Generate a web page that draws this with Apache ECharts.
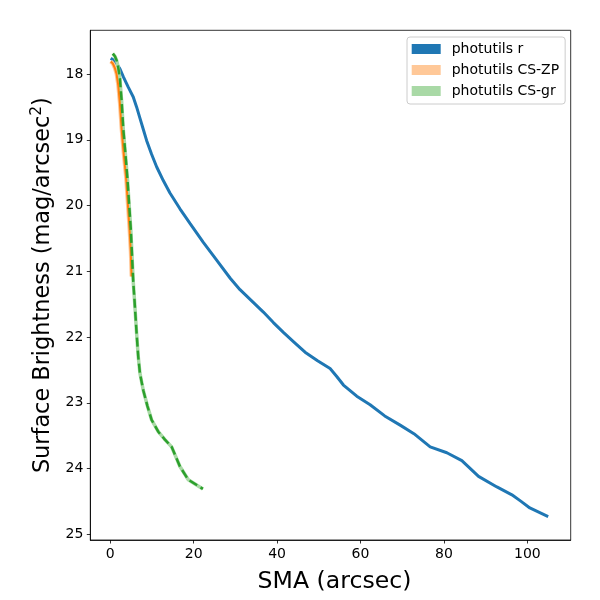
<!DOCTYPE html>
<html>
<head>
<meta charset="utf-8">
<script src="https://cdn.jsdelivr.net/npm/echarts@6/dist/echarts.min.js"></script>
<style>
  html, body { margin: 0; padding: 0; background: #fff; }
  #chart { width: 600px; height: 600px; }
</style>
</head>
<body>
<div id="chart"></div>
<script>
// photutils r profile
var rSma = [0.1, 0.8, 1.5, 2.3, 3.1, 4.3, 5.5, 6.3, 7.1, 7.9, 8.7, 9.9, 11.1, 12.7, 14.3, 16.7, 19.1, 22.3, 25.5, 28.8,
            31.1, 33.9, 36.7, 39.1, 41.5, 44.1, 46.7, 49.7, 52.7, 54.3, 55.9, 59.1, 62.3, 65.8, 69.5, 72.8, 76.7, 80.7,
            84.3, 88.3, 92.7, 96.3, 98.5, 100.6, 105.0];
var rMag = [17.76, 17.79, 17.84, 17.92, 18.04, 18.2, 18.35, 18.5, 18.67, 18.84, 19.01, 19.22, 19.41, 19.62, 19.81, 20.05,
            20.27, 20.56, 20.83, 21.11, 21.28, 21.45, 21.62, 21.78, 21.93, 22.08, 22.23, 22.36, 22.48, 22.6, 22.73, 22.9,
            23.03, 23.2, 23.34, 23.47, 23.67, 23.76, 23.88, 24.12, 24.28, 24.4, 24.5, 24.6, 24.73];
// photutils CS-ZP
var zpSma = [0.1, 0.6, 1.1, 1.5, 1.9, 2.3, 2.7, 3.2, 3.8, 4.2, 4.6, 4.9, 5.1];
var zpMag = [17.81, 17.84, 17.91, 18.0, 18.17, 18.45, 18.83, 19.2, 19.59, 19.97, 20.35, 20.7, 21.08];
// photutils CS-gr
var grSma = [0.6, 1.1, 1.5, 1.9, 2.3, 2.7, 3.1, 3.6, 4.1, 4.5, 4.9, 5.2, 5.5, 5.8, 6.3, 6.7, 7.1, 7.9, 8.9, 9.9,
             11.5, 13.1, 14.7, 16.7, 18.7, 22.2];
var grMag = [17.69, 17.73, 17.79, 17.9, 18.07, 18.4, 18.83, 19.2, 19.59, 19.97, 20.35, 20.75, 21.16, 21.44, 21.94, 22.3,
             22.55, 22.81, 23.05, 23.26, 23.44, 23.56, 23.67, 23.97, 24.17, 24.31];

var xTicks = [0, 20, 40, 60, 80, 100];
var yTicks = [18, 19, 20, 21, 22, 23, 24, 25];

var zip = function(xs, ys) {
    return xs.map(function(x, i) { return [x, ys[i]]; });
};

var font = 'DejaVu Sans';
var myChart = echarts.init(document.getElementById('chart'));

var axisCommon = {
    axisLine: { show: true, onZero: false, lineStyle: { color: '#000', width: 0.8 } },
    axisTick: { show: true, inside: false, length: 3.5, lineStyle: { color: '#000', width: 0.8 } },
    splitLine: { show: false }
};

var option = {
    animation: false,
    backgroundColor: '#fff',
    grid: {
        left: 90.3, right: 29.3, top: 30.3, bottom: 60,
        show: true, borderColor: '#000', borderWidth: 0.8,
        containLabel: false, outerBoundsMode: 'none'
    },
    legend: {
        orient: 'vertical',
        left: 407, top: 37,
        padding: [5, 6, 6, 4.7],
        itemGap: 7,
        itemWidth: 29, itemHeight: 10,
        borderColor: '#cccccc', borderWidth: 1, borderRadius: 3,
        backgroundColor: 'rgba(255,255,255,0.8)',
        textStyle: { fontFamily: font, fontSize: 14, color: '#000', lineHeight: 14, padding: [0, 0, 0, 6] },
        data: [
            { name: 'photutils r', icon: 'rect', itemStyle: { color: '#1f77b4' } },
            { name: 'photutils CS-ZP', icon: 'rect', itemStyle: { color: '#ffc898' } },
            { name: 'photutils CS-gr', icon: 'rect', itemStyle: { color: '#a9d9a6' } }
        ]
    },
    xAxis: Object.assign({}, axisCommon, {
        type: 'value',
        min: -4.8, max: 110.4,
        name: 'SMA (arcsec)',
        nameLocation: 'middle',
        nameGap: 30,
        nameTextStyle: { fontFamily: font, fontSize: 23.6, color: '#000', padding: [0, 0, 0, 8] },
        axisTick: Object.assign({}, axisCommon.axisTick, { customValues: xTicks }),
        axisLabel: { customValues: xTicks, margin: 7, fontFamily: font, fontSize: 14, color: '#000' }
    }),
    yAxis: Object.assign({}, axisCommon, {
        type: 'value',
        inverse: true,
        min: 17.335, max: 25.087,
        name: 'Surface Brightness (mag/arcsec{sup|2})',
        nameLocation: 'middle',
        nameRotate: 90,
        nameGap: 33,
        nameTextStyle: {
            fontFamily: font, fontSize: 22.4, color: '#000',
            rich: { sup: { fontFamily: font, fontSize: 15.5, color: '#000', verticalAlign: 'top', padding: [0, 0, 12, 0] } }
        },
        axisTick: Object.assign({}, axisCommon.axisTick, { customValues: yTicks }),
        axisLabel: { customValues: yTicks, margin: 7, fontFamily: font, fontSize: 14, color: '#000' }
    }),
    series: [
        {
            name: 'photutils r', type: 'line', showSymbol: false, silent: true,
            data: zip(rSma, rMag),
            itemStyle: { color: '#1f77b4' },
            lineStyle: { color: '#1f77b4', width: 3 }
        },
        {
            name: 'photutils CS-ZP', type: 'line', showSymbol: false, silent: true,
            data: zip(zpSma, zpMag),
            itemStyle: { color: '#ffc898' },
            lineStyle: { color: '#ffc898', width: 4 }
        },
        {
            name: 'photutils CS-gr', type: 'line', showSymbol: false, silent: true,
            data: zip(grSma, grMag),
            itemStyle: { color: '#a9d9a6' },
            lineStyle: { color: '#a9d9a6', width: 3.5 }
        },
        {
            name: 'zp line', type: 'line', showSymbol: false, silent: true,
            data: zip(zpSma, zpMag),
            lineStyle: { color: '#ff7f0e', width: 2 }
        },
        {
            name: 'gr line', type: 'line', showSymbol: false, silent: true,
            data: zip(grSma, grMag),
            lineStyle: { color: '#2ca02c', width: 2.5, type: [9, 4] }
        }
    ]
};
myChart.setOption(option);
</script>
</body>
</html>
